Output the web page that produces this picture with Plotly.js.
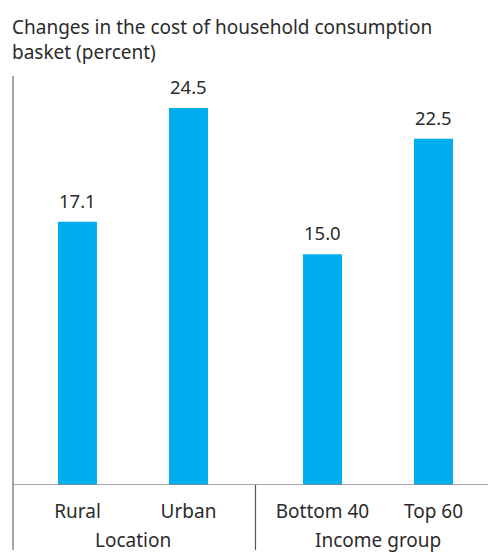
<!DOCTYPE html>
<html>
<head>
<meta charset="utf-8">
<script src="https://cdn.plot.ly/plotly-3.0.1.min.js"></script>
<style>html,body{margin:0;padding:0;background:#fff;}#chart{width:488px;height:554px;}</style>
</head>
<body>
<div id="chart"></div>
<script>
// Data
const categories = ["Rural", "Urban", "Bottom 40", "Top 60"];
const groups = ["Location", "Location", "Income group", "Income group"];
const values = [17.1, 24.5, 15.0, 22.5];
const groupNames = ["Location", "Income group"];
const chartTitle = "Changes in the cost of household consumption<br>basket (percent)";

// Layout rule: positions by index, extra gap between groups
const GAP = 0.207;
const xpos = categories.map((c, i) => i + groupNames.indexOf(groups[i]) * GAP);

const barColor = "#00ADEF";
const textColor = "#2b2b2b";
const FONT = "Noto Sans, sans-serif";

const trace = {
  type: "bar",
  x: xpos,
  y: values,
  width: 0.351,
  marker: {color: barColor},
  hoverinfo: "skip"
};

const annotations = [];
values.forEach((v, i) => {
  annotations.push({
    x: xpos[i], y: v, xref: "x", yref: "y",
    text: v.toFixed(1), showarrow: false,
    yanchor: "bottom", yshift: 7,
    font: {family: FONT, size: 18.5, color: textColor}
  });
});
groupNames.forEach(g => {
  const xs = xpos.filter((x, i) => groups[i] === g);
  const mid = (Math.min(...xs) + Math.max(...xs)) / 2;
  annotations.push({
    x: mid, xref: "x", y: 0, yref: "paper",
    text: g, showarrow: false, yanchor: "middle", yshift: -55,
    font: {family: FONT, size: 19, color: textColor}
  });
});

const shapes = [];
shapes.push({type: "line", xref: "paper", yref: "paper", x0: 0, x1: 0, y0: -0.159, y1: 1,
  line: {color: "#8a8a8a", width: 1.5}});
shapes.push({type: "line", xref: "paper", yref: "y", x0: 0, x1: 1, y0: 0, y1: 0,
  line: {color: "#8a8a8a", width: 1.5}});
for (let i = 1; i < categories.length; i++) {
  if (groups[i] !== groups[i - 1]) {
    const sx = (xpos[i] + xpos[i - 1]) / 2;
    shapes.push({type: "line", xref: "x", yref: "paper", x0: sx, x1: sx, y0: 0, y1: -0.159,
      line: {color: "#555", width: 1.2}});
  }
}

const layout = {
  width: 488, height: 554,
  margin: {l: 13, r: 0, t: 76, b: 69},
  paper_bgcolor: "#fff", plot_bgcolor: "#fff",
  showlegend: false,
  title: {
    text: chartTitle, xref: "container", yref: "container",
    x: 12 / 488, xanchor: "left", y: 1 - 34 / 554, yanchor: "top",
    font: {family: FONT, size: 19, color: textColor}
  },
  xaxis: {
    range: [-0.581, 3.698],
    tickvals: xpos, ticktext: categories,
    ticks: "", showline: false, showgrid: false, zeroline: false,
    tickfont: {family: FONT, size: 19, color: textColor},
    ticklabelstandoff: 13,
    fixedrange: true
  },
  yaxis: {
    range: [0, 26.58], showticklabels: false, showgrid: false,
    zeroline: false, showline: false, ticks: "", fixedrange: true
  },
  annotations: annotations,
  shapes: shapes
};

Plotly.newPlot("chart", [trace], layout, {displayModeBar: false, staticPlot: true});
</script>
</body>
</html>
